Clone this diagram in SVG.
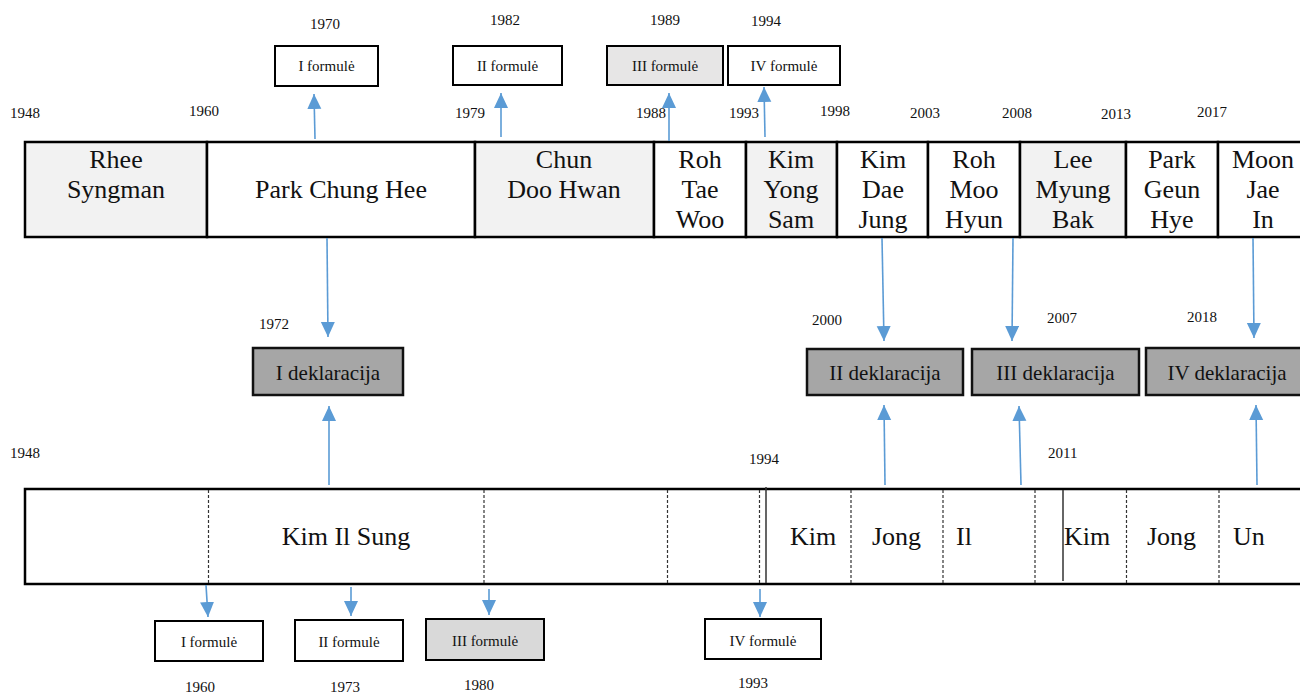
<svg xmlns="http://www.w3.org/2000/svg" width="1300" height="693" viewBox="0 0 1300 693">
<defs>
<marker id="ah" markerUnits="userSpaceOnUse" markerWidth="16" markerHeight="16" refX="15" refY="7" orient="auto">
<path d="M0,0 L15,7 L0,14 z" fill="#5b9bd5"/>
</marker>
<style>
text{font-family:"Liberation Serif","Times New Roman",serif;fill:#111}
.yr{font-size:15px}
.big{font-size:26px;text-anchor:middle}
.bigl{font-size:26px}
.sm{font-size:15px;text-anchor:middle}
.dk{font-size:21px;text-anchor:middle}
.cell{stroke:#000;stroke-width:2.5}
.fbox{stroke:#000;stroke-width:2}
.dbox{fill:#a6a6a6;stroke:#111;stroke-width:2.5}
.dash{stroke:#333;stroke-width:1.2;stroke-dasharray:3 2}
.solid{stroke:#333;stroke-width:1.5}
.arr{stroke:#5b9bd5;stroke-width:1.6;fill:none;marker-end:url(#ah)}
</style>
</defs>
<rect width="1300" height="693" fill="#fff"/>

<g id="years">
<text class="yr" x="10" y="118">1948</text>
<text class="yr" x="189" y="116">1960</text>
<text class="yr" x="310" y="29">1970</text>
<text class="yr" x="455" y="118">1979</text>
<text class="yr" x="490" y="25">1982</text>
<text class="yr" x="636" y="118">1988</text>
<text class="yr" x="650" y="25">1989</text>
<text class="yr" x="729" y="118">1993</text>
<text class="yr" x="751" y="26">1994</text>
<text class="yr" x="820" y="116">1998</text>
<text class="yr" x="910" y="118">2003</text>
<text class="yr" x="1002" y="118">2008</text>
<text class="yr" x="1101" y="119">2013</text>
<text class="yr" x="1197" y="117">2017</text>
<text class="yr" x="259" y="329">1972</text>
<text class="yr" x="812" y="325">2000</text>
<text class="yr" x="1047" y="323">2007</text>
<text class="yr" x="1187" y="322">2018</text>
<text class="yr" x="10" y="458">1948</text>
<text class="yr" x="749" y="464">1994</text>
<text class="yr" x="1048" y="458">2011</text>
<text class="yr" x="185" y="692">1960</text>
<text class="yr" x="330" y="692">1973</text>
<text class="yr" x="464" y="690">1980</text>
<text class="yr" x="738" y="688">1993</text>
</g>

<g id="south-korea">
<rect class="cell" x="25" y="142" width="182" height="95" fill="#f2f2f2"/>
<rect class="cell" x="207" y="142" width="268" height="95" fill="#fff"/>
<rect class="cell" x="475" y="142" width="179" height="95" fill="#f2f2f2"/>
<rect class="cell" x="654" y="142" width="92" height="95" fill="#fff"/>
<rect class="cell" x="746" y="142" width="91" height="95" fill="#f2f2f2"/>
<rect class="cell" x="837" y="142" width="91" height="95" fill="#fff"/>
<rect class="cell" x="928" y="142" width="92" height="95" fill="#fff"/>
<rect class="cell" x="1020" y="142" width="106" height="95" fill="#f2f2f2"/>
<rect class="cell" x="1126" y="142" width="92" height="95" fill="#fff"/>
<rect class="cell" x="1218" y="142" width="100" height="95" fill="#fff"/>
<text class="big" x="116" y="168">Rhee</text>
<text class="big" x="116" y="198">Syngman</text>
<text class="big" x="341" y="198">Park Chung Hee</text>
<text class="big" x="564" y="168">Chun</text>
<text class="big" x="564" y="198">Doo Hwan</text>
<text class="big" x="700" y="168">Roh</text>
<text class="big" x="700" y="198">Tae</text>
<text class="big" x="700" y="228">Woo</text>
<text class="big" x="791" y="168">Kim</text>
<text class="big" x="791" y="198">Yong</text>
<text class="big" x="791" y="228">Sam</text>
<text class="big" x="883" y="168">Kim</text>
<text class="big" x="883" y="198">Dae</text>
<text class="big" x="883" y="228">Jung</text>
<text class="big" x="974" y="168">Roh</text>
<text class="big" x="974" y="198">Moo</text>
<text class="big" x="974" y="228">Hyun</text>
<text class="big" x="1073" y="168">Lee</text>
<text class="big" x="1073" y="198">Myung</text>
<text class="big" x="1073" y="228">Bak</text>
<text class="big" x="1172" y="168">Park</text>
<text class="big" x="1172" y="198">Geun</text>
<text class="big" x="1172" y="228">Hye</text>
<text class="big" x="1263" y="168">Moon</text>
<text class="big" x="1263" y="198">Jae</text>
<text class="big" x="1263" y="228">In</text>
</g>

<g id="north-korea">
<rect class="cell" x="25" y="489" width="1295" height="95" fill="#fff"/>
<line class="dash" x1="208.5" y1="490" x2="208.5" y2="583"/>
<line class="dash" x1="484" y1="490" x2="484" y2="583"/>
<line class="dash" x1="667.5" y1="490" x2="667.5" y2="583"/>
<line class="dash" x1="759.5" y1="490" x2="759.5" y2="583"/>
<line class="solid" x1="766" y1="487" x2="766" y2="583"/>
<line class="dash" x1="851" y1="490" x2="851" y2="583"/>
<line class="dash" x1="943" y1="490" x2="943" y2="583"/>
<line class="dash" x1="1035" y1="490" x2="1035" y2="583"/>
<line class="solid" x1="1063" y1="490" x2="1063" y2="581"/>
<line class="dash" x1="1126.5" y1="490" x2="1126.5" y2="583"/>
<line class="dash" x1="1219" y1="490" x2="1219" y2="583"/>
<text class="big" x="346" y="545">Kim Il Sung</text>
<text class="bigl" x="790" y="545">Kim</text>
<text class="bigl" x="872" y="545">Jong</text>
<text class="bigl" x="956" y="545">Il</text>
<text class="bigl" x="1064" y="545">Kim</text>
<text class="bigl" x="1147" y="545">Jong</text>
<text class="bigl" x="1233" y="545">Un</text>
</g>

<g id="top-formules">
<rect class="fbox" x="275" y="46" width="103" height="40" fill="#fff"/>
<text class="sm" x="326.5" y="71">I formulė</text>
<rect class="fbox" x="453" y="46" width="109" height="39" fill="#fff"/>
<text class="sm" x="507.5" y="71">II formulė</text>
<rect class="fbox" x="607" y="46" width="116" height="39" fill="#e7e6e6"/>
<text class="sm" x="665" y="71">III formulė</text>
<rect class="fbox" x="728" y="46" width="112" height="39" fill="#fff"/>
<text class="sm" x="784" y="71">IV formulė</text>
</g>

<g id="declarations">
<rect class="dbox" x="253" y="348" width="150" height="47"/>
<text class="dk" x="328" y="380">I deklaracija</text>
<rect class="dbox" x="807" y="349" width="156" height="46"/>
<text class="dk" x="885" y="380">II deklaracija</text>
<rect class="dbox" x="972" y="349" width="167" height="46"/>
<text class="dk" x="1055.5" y="380">III deklaracija</text>
<rect class="dbox" x="1146" y="348" width="164" height="47"/>
<text class="dk" x="1227" y="380">IV deklaracija</text>
</g>

<g id="bottom-formules">
<rect class="fbox" x="155" y="621" width="108" height="40" fill="#fff"/>
<text class="sm" x="209" y="647">I formulė</text>
<rect class="fbox" x="295" y="620" width="108" height="41" fill="#fff"/>
<text class="sm" x="349" y="647">II formulė</text>
<rect class="fbox" x="426" y="619" width="118" height="41" fill="#d9d9d9"/>
<text class="sm" x="485" y="646">III formulė</text>
<rect class="fbox" x="705" y="619" width="116" height="40" fill="#fff"/>
<text class="sm" x="763" y="646">IV formulė</text>
</g>

<g id="connectors">
<line class="arr" x1="315" y1="139" x2="314" y2="94"/>
<line class="arr" x1="501" y1="137" x2="501" y2="93"/>
<line class="arr" x1="669" y1="141" x2="669" y2="93"/>
<line class="arr" x1="765" y1="137" x2="764" y2="87"/>
<line class="arr" x1="327" y1="238" x2="328" y2="337"/>
<line class="arr" x1="882" y1="238" x2="884" y2="341"/>
<line class="arr" x1="1013" y1="238" x2="1012" y2="341"/>
<line class="arr" x1="1253" y1="238" x2="1254" y2="338"/>
<line class="arr" x1="329" y1="485" x2="329" y2="406"/>
<line class="arr" x1="885" y1="485" x2="884" y2="405"/>
<line class="arr" x1="1021" y1="485" x2="1019" y2="406"/>
<line class="arr" x1="1257" y1="485" x2="1256" y2="405"/>
<line class="arr" x1="206" y1="585" x2="208" y2="617"/>
<line class="arr" x1="351" y1="587" x2="351" y2="616"/>
<line class="arr" x1="489" y1="589" x2="489" y2="615"/>
<line class="arr" x1="760" y1="589" x2="760" y2="617"/>
</g>
</svg>
